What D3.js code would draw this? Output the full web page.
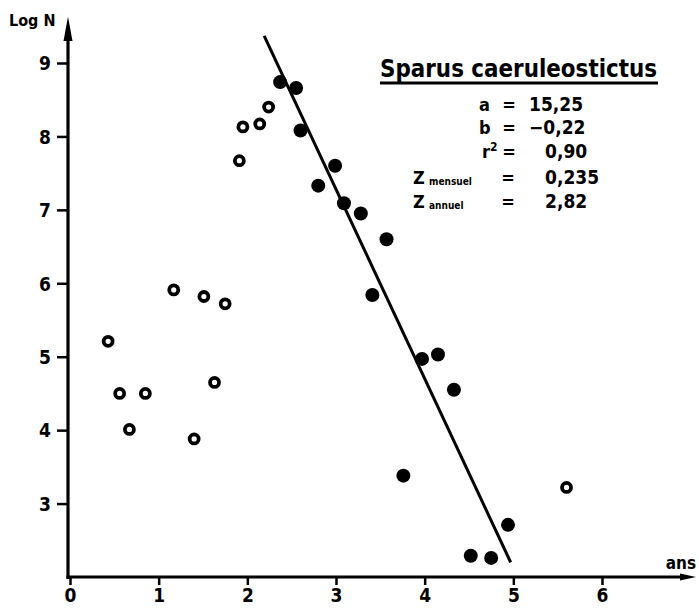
<!DOCTYPE html>
<html>
<head>
<meta charset="utf-8">
<script src="https://cdn.jsdelivr.net/npm/d3@7"></script>
<style>
    html, body { margin: 0; padding: 0; background: #fff; }
    svg { display: block; }
    text { font-family: 'DejaVu Sans Condensed', 'DejaVu Sans', sans-serif; font-weight: bold; fill: #000; }
</style>
</head>
<body>
<div id="chart"></div>
<script>
// Open circles (young fish, not used in the fit)
const openAge = [0.43, 0.56, 0.67, 0.85, 1.17, 1.40, 1.51, 1.63, 1.75, 1.91, 1.95, 2.14, 2.24, 5.60];
const openLogN = [5.21, 4.50, 4.01, 4.50, 5.91, 3.88, 5.82, 4.65, 5.72, 7.67, 8.13, 8.17, 8.40, 3.22];

// Filled circles (points of the catch curve)
const filledAge = [2.37, 2.55, 2.60, 2.80, 2.99, 3.09, 3.28, 3.41, 3.57, 3.76, 3.97, 4.15, 4.33, 4.52, 4.75, 4.94];
const filledLogN = [8.74, 8.66, 8.08, 7.33, 7.60, 7.09, 6.95, 5.84, 6.60, 3.38, 4.97, 5.03, 4.55, 2.29, 2.26, 2.71];

// Regression line ends
const fitAge = [2.19, 4.97];
const fitLogN = [9.37, 2.20];

const xTicks = [0, 1, 2, 3, 4, 5, 6];
const yTicks = [3, 4, 5, 6, 7, 8, 9];

const title = 'Sparus caeruleostictus';
const paramNames = ['a', 'b', 'r', 'Z', 'Z'];
const paramSups = ['', '', '2', '', ''];
const paramSubs = ['', '', '', 'mensuel', 'annuel'];
const paramValues = ['15,25', '−0,22', '0,90', '0,235', '2,82'];

const width = 699;
const height = 609;

const svg = d3.select('#chart')
    .append('svg')
    .attr('width', width)
    .attr('height', height);

const x = d3.scaleLinear().domain([0, 6]).range([70, 602]);
const y = d3.scaleLinear().domain([2, 9]).range([577, 63]);

const x0 = x(0) - 2;
const y0 = y(2);

// Axis lines with arrow heads
svg.append('line')
    .attr('x1', x0).attr('y1', y0 + 2)
    .attr('x2', x0).attr('y2', y(9.45))
    .attr('stroke', '#000').attr('stroke-width', 3.2);
svg.append('path')
    .attr('d', `M${x0},${y(9.55) - 6} L${x0 - 4.5},${y(9.3)} L${x0 + 4.5},${y(9.3)} Z`)
    .attr('fill', '#000');

svg.append('line')
    .attr('x1', x0 - 1.5).attr('y1', y0)
    .attr('x2', x(6.95)).attr('y2', y0)
    .attr('stroke', '#000').attr('stroke-width', 3.2);
svg.append('path')
    .attr('d', `M${x(7.06)},${y0} L${x(6.88)},${y0 - 3.5} L${x(6.88)},${y0 + 3.5} Z`)
    .attr('fill', '#000');

// Y axis ticks and labels
const yAxis = d3.axisLeft(y)
    .tickValues(yTicks)
    .tickSize(11)
    .tickPadding(6)
    .tickFormat(d3.format('d'));

const yg = svg.append('g')
    .attr('transform', `translate(${x0},0)`)
    .call(yAxis);
yg.select('.domain').remove();
yg.selectAll('.tick line').attr('stroke', '#000').attr('stroke-width', 2.5);
yg.selectAll('.tick text')
    .style('font-size', '19px')
    .attr('dy', '0.36em');

// X axis ticks and labels
const xAxis = d3.axisBottom(x)
    .tickValues(xTicks)
    .tickSize(8)
    .tickPadding(4)
    .tickFormat(d3.format('d'));

const xg = svg.append('g')
    .attr('transform', `translate(0,${y0})`)
    .call(xAxis);
xg.select('.domain').remove();
xg.selectAll('.tick line').attr('stroke', '#000').attr('stroke-width', 2.5);
xg.selectAll('.tick text')
    .style('font-size', '19px');

// Axis titles
svg.append('text')
    .attr('x', 9)
    .attr('y', 26)
    .style('font-size', '16px')
    .text('Log N');

svg.append('text')
    .attr('x', 696)
    .attr('y', 569)
    .attr('text-anchor', 'end')
    .style('font-size', '17px')
    .text('ans');

// Regression line
svg.append('line')
    .attr('x1', x(fitAge[0])).attr('y1', y(fitLogN[0]))
    .attr('x2', x(fitAge[1])).attr('y2', y(fitLogN[1]))
    .attr('stroke', '#000')
    .attr('stroke-width', 3);

// Points
const openPts = openAge.map((a, i) => ({ age: a, logN: openLogN[i] }));
const filledPts = filledAge.map((a, i) => ({ age: a, logN: filledLogN[i] }));

svg.append('g')
    .selectAll('circle')
    .data(openPts)
    .enter()
    .append('circle')
    .attr('cx', d => x(d.age))
    .attr('cy', d => y(d.logN))
    .attr('r', 4.5)
    .attr('fill', '#fff')
    .attr('stroke', '#000')
    .attr('stroke-width', 3.8);

svg.append('g')
    .selectAll('circle')
    .data(filledPts)
    .enter()
    .append('circle')
    .attr('cx', d => x(d.age))
    .attr('cy', d => y(d.logN))
    .attr('r', 7)
    .attr('fill', '#000');

// Species name and fit parameters
svg.append('text')
    .attr('x', 380)
    .attr('y', 77)
    .attr('textLength', 277)
    .attr('lengthAdjust', 'spacingAndGlyphs')
    .style('font-size', '24px')
    .text(title);
svg.append('line')
    .attr('x1', 380).attr('x2', 658)
    .attr('y1', 83).attr('y2', 83)
    .attr('stroke', '#000').attr('stroke-width', 2.8);

const rowY = [111, 134, 158, 184, 208];
const params = paramNames.map((n, i) => ({
    name: n, sup: paramSups[i], sub: paramSubs[i], value: paramValues[i], y: rowY[i]
}));

const rows = svg.append('g')
    .selectAll('g')
    .data(params)
    .enter()
    .append('g')
    .attr('transform', d => `translate(0,${d.y})`);

const names = rows.append('text')
    .attr('x', d => d.sub ? 413 : (d.sup ? 482 : 479))
    .style('font-size', '18px')
    .text(d => d.name);
names.filter(d => d.sup)
    .append('tspan')
    .attr('dy', -7)
    .style('font-size', '12px')
    .text(d => d.sup);

rows.filter(d => d.sub)
    .append('text')
    .attr('x', 429)
    .attr('y', 1)
    .style('font-size', '10px')
    .text(d => d.sub);

rows.append('text')
    .attr('x', d => d.sub ? 508 : 509)
    .attr('text-anchor', 'middle')
    .style('font-size', '18px')
    .text('=');

rows.append('text')
    .attr('x', (d, i) => i < 2 ? 529 : 545)
    .style('font-size', '19px')
    .text(d => d.value);
</script>
</body>
</html>
